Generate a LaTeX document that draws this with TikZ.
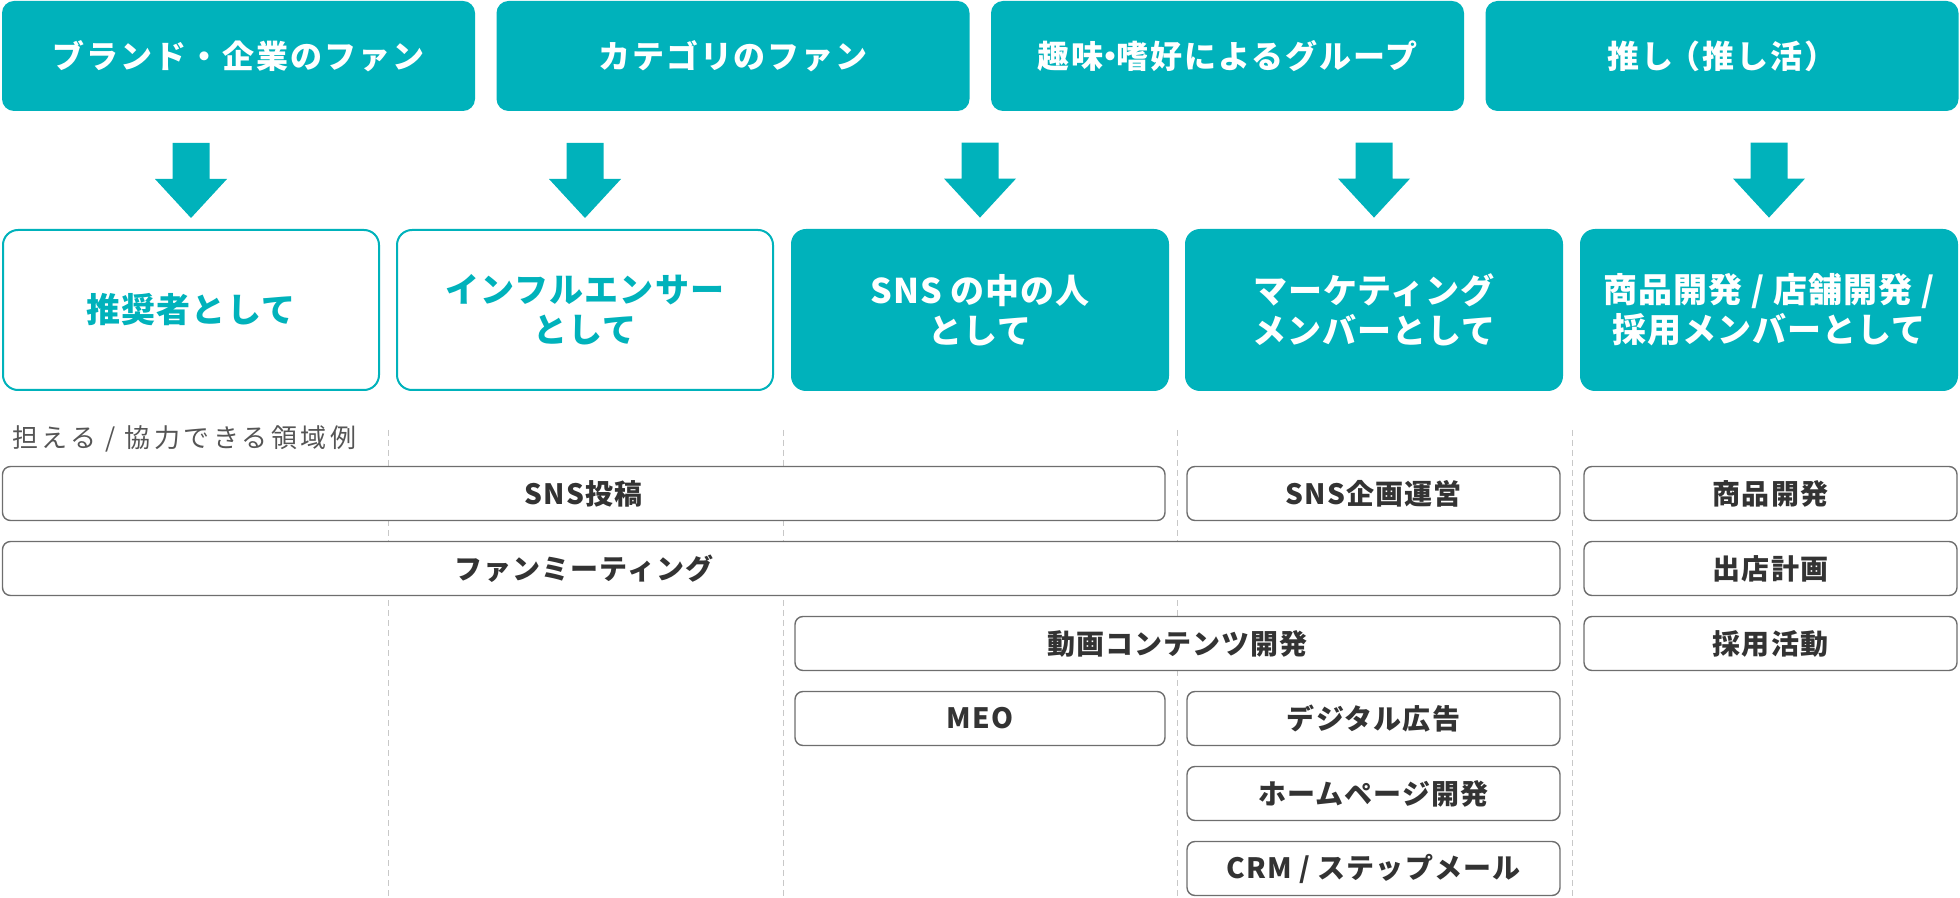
\documentclass[tikz,border=0pt]{standalone}
\usepackage{fontspec}
\setmainfont{Noto Sans CJK JP}
\usetikzlibrary{calc}
\definecolor{teal0}{RGB}{0,178,187}
\definecolor{txtgray}{RGB}{51,51,51}
\definecolor{lblgray}{RGB}{85,85,85}
\definecolor{brdgray}{RGB}{110,110,110}
\definecolor{dashgray}{RGB}{200,200,200}
\begin{document}
\begin{tikzpicture}[x=0.5pt,y=-0.5pt,
  topbox/.style={fill=teal0, rounded corners=6pt, minimum width=236.5pt, minimum height=55pt, inner sep=0pt,
     text=white, font=\fontsize{16pt}{19pt}\selectfont\bfseries\addfontfeatures{LetterSpace=6}},
  rolefill/.style={fill=teal0, rounded corners=7.5pt, minimum width=189pt, minimum height=81pt, inner sep=0pt,
     text=white, align=center, font=\fontsize{17pt}{20pt}\selectfont\bfseries\addfontfeatures{LetterSpace=3}},
  roleline/.style={fill=white, draw=teal0, line width=1pt, rounded corners=7.5pt, minimum width=188pt, minimum height=80pt, inner sep=0pt,
     text=teal0, align=center, font=\fontsize{17pt}{20pt}\selectfont\bfseries\addfontfeatures{LetterSpace=3}},
  areabox/.style={fill=white, draw=brdgray, line width=0.7pt, rounded corners=4pt, minimum height=27pt, inner sep=0pt,
     text=txtgray, font=\fontsize{14pt}{17pt}\selectfont\bfseries\addfontfeatures{LetterSpace=4}},
  areatext/.style={inner sep=0pt, text=txtgray, font=\fontsize{14pt}{17pt}\selectfont\bfseries\addfontfeatures{LetterSpace=4}},
  blockarrow/.style={fill=teal0},
  guide/.style={draw=dashgray, line width=0.5pt, dash pattern=on 3pt off 2pt}
]
\useasboundingbox (0,0) rectangle (1960,898);

% dashed column guides
\foreach \gx in {388,783,1177,1572}{
  \draw[guide] (\gx,430) -- (\gx,896);
}

% top row
\node[topbox] (t1) at (238.5,56) {ブランド・企業のファン};
\node[topbox] (t2) at (733,56) {カテゴリのファン};
\node[topbox] (t3) at (1227.5,56) {趣味\hspace{-0.3em}・\hspace{-0.3em}嗜好によるグループ};
\node[topbox] (t4) at (1722,56) {推し\hspace{-0.15em}（推し活）};

% role row
\node[roleline] (r1) at (191,310) {推奨者として};
\node[roleline] (r2) at (585,310) {インフルエンサー\\として};
\node[rolefill] (r3) at (980,310) {SNS の中の人\\として};
\node[rolefill] (r4) at (1374,310) {マーケティング\\メンバーとして};
\node[rolefill] (r5) at (1769,310) {商品開発 / 店舗開発 /\\採用メンバーとして};

% block arrows
\foreach \r in {r1,r2,r3,r4,r5}{
  \fill[blockarrow] ($(\r.north)+(-18.5,-86)$) -- ($(\r.north)+(18.5,-86)$) -- ($(\r.north)+(18.5,-50)$)
    -- ($(\r.north)+(36,-50)$) -- ($(\r.north)+(0,-11)$) -- ($(\r.north)+(-36,-50)$)
    -- ($(\r.north)+(-18.5,-50)$) -- cycle;
}

% label
\node[anchor=west, inner sep=0pt, text=lblgray, font=\fontsize{13pt}{15pt}\selectfont\addfontfeatures{LetterSpace=13}] (lbl) at (12,439) {担える / 協力できる領域例};

% area boxes
\node[areabox, minimum width=581.25pt] (a1) at (583.75,493.5) {SNS投稿};
\node[areabox, minimum width=186.5pt] (a2) at (1373.5,493.5) {SNS企画運営};
\node[areabox, minimum width=186.5pt] (a3) at (1770.5,493.5) {商品開発};

\node[areabox, minimum width=778.75pt] (b1) at (781.25,568.5) {};
\node[areatext] (b1t) at (583.75,568.5) {ファンミーティング};
\node[areabox, minimum width=186.5pt] (b2) at (1770.5,568.5) {出店計画};

\node[areabox, minimum width=382.5pt] (c1) at (1177.5,643.5) {動画コンテンツ開発};
\node[areabox, minimum width=186.5pt] (c2) at (1770.5,643.5) {採用活動};

\node[areabox, minimum width=185pt] (d1) at (980,718.5) {MEO};
\node[areabox, minimum width=186.5pt] (d2) at (1373.5,718.5) {デジタル広告};

\node[areabox, minimum width=186.5pt] (e1) at (1373.5,793.5) {ホームページ開発};
\node[areabox, minimum width=186.5pt] (f1) at (1373.5,868.5) {CRM / ステップメール};
\end{tikzpicture}
\end{document}
